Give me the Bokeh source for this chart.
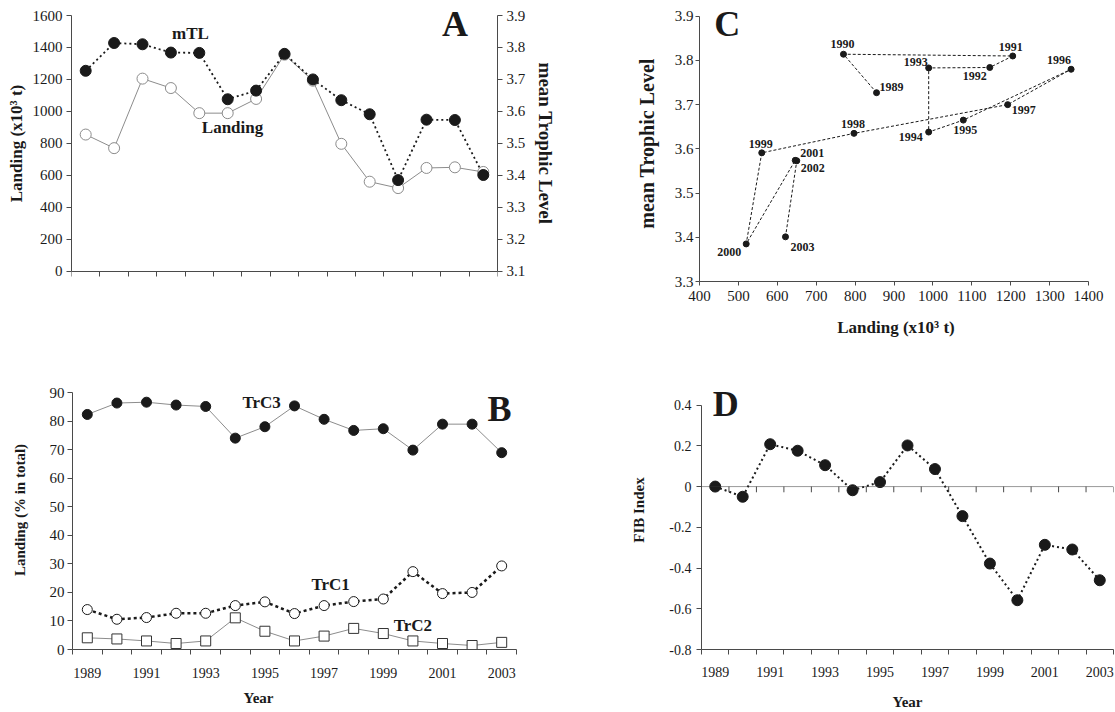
from bokeh.plotting import figure
from bokeh.models import Range1d, LinearAxis, FixedTicker, Label, Span, Title
from bokeh.layouts import row, column
from bokeh.embed import file_html
from bokeh.resources import INLINE
from bokeh.core.properties import value

# ---------------- data ----------------
years = [1989, 1990, 1991, 1992, 1993, 1994, 1995, 1996, 1997, 1998, 1999, 2000, 2001, 2002, 2003]
landing = [855, 770, 1205, 1146, 989, 989, 1078, 1355, 1192, 797, 560, 520, 646, 650, 621]
mean_tl = [3.727, 3.814, 3.810, 3.784, 3.783, 3.638, 3.665, 3.780, 3.700, 3.635, 3.591, 3.385, 3.574, 3.573, 3.401]
trc3 = [82.4, 86.4, 86.7, 85.7, 85.2, 74.1, 78.1, 85.4, 80.7, 76.8, 77.4, 69.9, 79.0, 79.0, 69.0]
trc1 = [14.0, 10.6, 11.2, 12.7, 12.7, 15.4, 16.7, 12.6, 15.4, 16.8, 17.7, 27.3, 19.6, 20.0, 29.3]
trc2 = [4.1, 3.7, 3.0, 2.1, 3.0, 11.1, 6.4, 3.0, 4.7, 7.4, 5.6, 3.0, 2.1, 1.4, 2.5]
fib = [0.0, -0.05, 0.208, 0.176, 0.105, -0.018, 0.022, 0.202, 0.086, -0.145, -0.378, -0.558, -0.286, -0.309, -0.46]

year_labels = [1989, 1991, 1993, 1995, 1997, 1999, 2001, 2003]
landing_ticks = [0, 200, 400, 600, 800, 1000, 1200, 1400, 1600]
tl_ticks = [3.1, 3.2, 3.3, 3.4, 3.5, 3.6, 3.7, 3.8, 3.9]
c_x_ticks = [400, 500, 600, 700, 800, 900, 1000, 1100, 1200, 1300, 1400]
c_y_ticks = [3.3, 3.4, 3.5, 3.6, 3.7, 3.8, 3.9]
pct_ticks = [0, 10, 20, 30, 40, 50, 60, 70, 80, 90]
fib_ticks = [-0.8, -0.6, -0.4, -0.2, 0, 0.2, 0.4]
fib_tick_text = ["-0.8", "-0.6", "-0.4", "-0.2", "0", "0.2", "0.4"]

# label placement (screen px offsets) for the year labels of panel C
c_label_dx = [15, -1, -2, -15, -13, -18, 2, -12, 16, -1, -1, -17, 17, 16, 17]
c_label_dy = [-6, -10, -9, 9, -6, 5, 10, -9, 5, -9, -9, 8, -7, 7, 10]

# ---------------- style ----------------
SERIF = "Liberation Serif"
INK = "#1a1a1a"
AXIS = "#4a4a4a"
GREY = "#8c8c8c"

boundaries = [y - 0.5 for y in years] + [years[-1] + 0.5]


def make_fig(w, h, lb, rb, tb, bb, xr, yr):
    p = figure(width=w, height=h, x_range=xr, y_range=yr, output_backend="svg",
               toolbar_location=None, min_border_left=lb, min_border_right=rb,
               min_border_top=tb, min_border_bottom=bb)
    p.outline_line_color = None
    p.xgrid.visible = False
    p.ygrid.visible = False
    p.background_fill_color = "white"
    p.border_fill_color = "white"
    return p


def style_axis(ax, tick_size, label_size, tick_standoff, label_standoff):
    ax.axis_line_color = AXIS
    ax.axis_line_width = 1
    ax.major_tick_line_color = AXIS
    ax.minor_tick_line_color = AXIS
    ax.major_label_text_font = SERIF
    ax.major_label_text_font_size = f"{tick_size}px"
    ax.major_label_text_color = INK
    ax.major_label_standoff = tick_standoff
    ax.axis_label_text_font = SERIF
    ax.axis_label_text_font_style = "bold"
    ax.axis_label_text_font_size = f"{label_size}px"
    ax.axis_label_text_color = INK
    ax.axis_label_standoff = label_standoff


def value_axis(ax, ticks, tick_size, label_size, tick_standoff, label_standoff, tick_len=5):
    style_axis(ax, tick_size, label_size, tick_standoff, label_standoff)
    ax.ticker = FixedTicker(ticks=ticks)
    ax.bounds = (ticks[0], ticks[-1])
    ax.major_tick_out = tick_len
    ax.major_tick_in = 0
    ax.minor_tick_out = 0
    ax.minor_tick_in = 0


def year_axis(ax, tick_size, label_size, tick_standoff, label_standoff):
    style_axis(ax, tick_size, label_size, tick_standoff, label_standoff)
    ax.ticker = FixedTicker(ticks=year_labels, minor_ticks=boundaries)
    ax.major_tick_out = 0
    ax.major_tick_in = 0
    ax.minor_tick_out = 5
    ax.minor_tick_in = 0


def add_text(p, x, y, text, size, y_range_name="default"):
    lab = Label(x=x, y=y, text=text, text_font=SERIF, text_font_size=f"{size}px",
                text_font_style="bold", text_color=INK,
                text_align="center", text_baseline="middle", y_range_name=y_range_name)
    p.add_layout(lab)


# ---------------- panel A ----------------
pA = make_fig(560, 350, 71, 63, 5, 69, Range1d(1988.5, 2003.5), Range1d(-64.5, 1662.6))
pA.extra_y_ranges = {"tl": Range1d(3.1 - 64.5 / 2000, 3.9 + 62.6 / 2000)}
year_axis(pA.xaxis[0], 15, 18, 21, 14)
pA.xaxis[0].axis_label = "Year"
pA.xaxis[0].fixed_location = 0
value_axis(pA.yaxis[0], landing_ticks, 15, 17, 4, 4)
pA.yaxis[0].axis_label = "Landing (x10\u00b3 t)"
right_ax = LinearAxis(y_range_name="tl")
value_axis(right_ax, tl_ticks, 15, 19, 4, 7)
right_ax.axis_label = "mean Trophic Level"
pA.add_layout(right_ax, "right")

pA.line(years, landing, line_color=GREY, line_width=1)
pA.scatter(years, landing, size=11, marker="circle", fill_color="white", line_color=GREY, line_width=1)
pA.line(years, mean_tl, y_range_name="tl", line_color=INK, line_width=1.8, line_dash="2 3")
pA.scatter(years, mean_tl, y_range_name="tl", size=11, marker="circle", fill_color=INK, line_color=INK)

add_text(pA, 2002.0, 1548, "A", 36)
add_text(pA, 1992.69, 1487, "mTL", 17)
add_text(pA, 1994.17, 899, "Landing", 17)

# ---------------- panel C ----------------
pC = make_fig(555, 350, 139, 23, 5, 69, Range1d(400, 1410), Range1d(3.3, 3.9242))
value_axis(pC.xaxis[0], c_x_ticks, 15, 17, 5, 14, tick_len=4)
pC.xaxis[0].axis_label = "Landing (x10\u00b3 t)"
value_axis(pC.yaxis[0], c_y_ticks, 15, 20, 2, 14, tick_len=4)
pC.yaxis[0].axis_label = "mean Trophic Level"

pC.line(landing, mean_tl, line_color=INK, line_width=1, line_dash="3 2")
pC.scatter(landing, mean_tl, size=6, marker="circle", fill_color=INK, line_color=INK)
pC.text(x=landing, y=mean_tl, text=[str(y) for y in years], x_offset=c_label_dx, y_offset=c_label_dy,
        text_font=value(SERIF), text_font_size="12px", text_font_style="bold", text_color=INK,
        text_align="center", text_baseline="middle")
add_text(pC, 471.2, 3.8828, "C", 36)

# ---------------- panel B ----------------
pB = make_fig(560, 362, 72, 44, 20, 63, Range1d(1988.5, 2003.5), Range1d(0, 97.81))
year_axis(pB.xaxis[0], 14, 15, 13, 12)
value_axis(pB.yaxis[0], pct_ticks, 15, 15, 3, 19)
pB.yaxis[0].axis_label = "Landing (% in total)"
pB.add_layout(Title(text="Year", align="left", offset=171, standoff=14, text_font=SERIF,
                    text_font_size="15px", text_font_style="bold", text_color=INK), "below")

pB.line(years, trc3, line_color=GREY, line_width=1)
pB.scatter(years, trc3, size=10, marker="circle", fill_color=INK, line_color=INK)
pB.line(years, trc1, line_color=INK, line_width=2.5, line_dash="3 3")
pB.scatter(years, trc1, size=10, marker="circle", fill_color="white", line_color=INK, line_width=1)
pB.line(years, trc2, line_color=GREY, line_width=1)
pB.scatter(years, trc2, size=10, marker="square", fill_color="white", line_color="#333333", line_width=1)

add_text(pB, 2002.93, 84.4, "B", 36)
add_text(pB, 1994.89, 86.6, "TrC3", 17)
add_text(pB, 1997.22, 22.9, "TrC1", 17)
add_text(pB, 2000.0, 8.5, "TrC2", 17)

# ---------------- panel D ----------------
pD = make_fig(555, 362, 141, 2, 20, 63, Range1d(1988.5, 2003.5), Range1d(-0.8, 0.570))
year_axis(pD.xaxis[0], 14, 15, 12, 14)
pD.xaxis[0].axis_label = "Year"
value_axis(pD.yaxis[0], fib_ticks, 14, 15, 5, 19)
pD.yaxis[0].major_label_overrides = dict(zip(fib_ticks, fib_tick_text))
pD.yaxis[0].axis_label = "FIB Index"

pD.add_layout(Span(location=0, dimension="width", line_color="#333333", line_width=1, line_dash="1 1"))
tick_len_data = 0.028
pD.segment(x0=boundaries, y0=[0] * len(boundaries), x1=boundaries, y1=[-tick_len_data] * len(boundaries),
           line_color=AXIS, line_width=1)
pD.line(years, fib, line_color=INK, line_width=2, line_dash="2 3")
pD.scatter(years, fib, size=11, marker="circle", fill_color=INK, line_color=INK)
add_text(pD, 1989.38, 0.405, "D", 36)

layout = column(row(pA, pC), row(pB, pD))
open("out.html", "w").write(file_html(layout, INLINE))
